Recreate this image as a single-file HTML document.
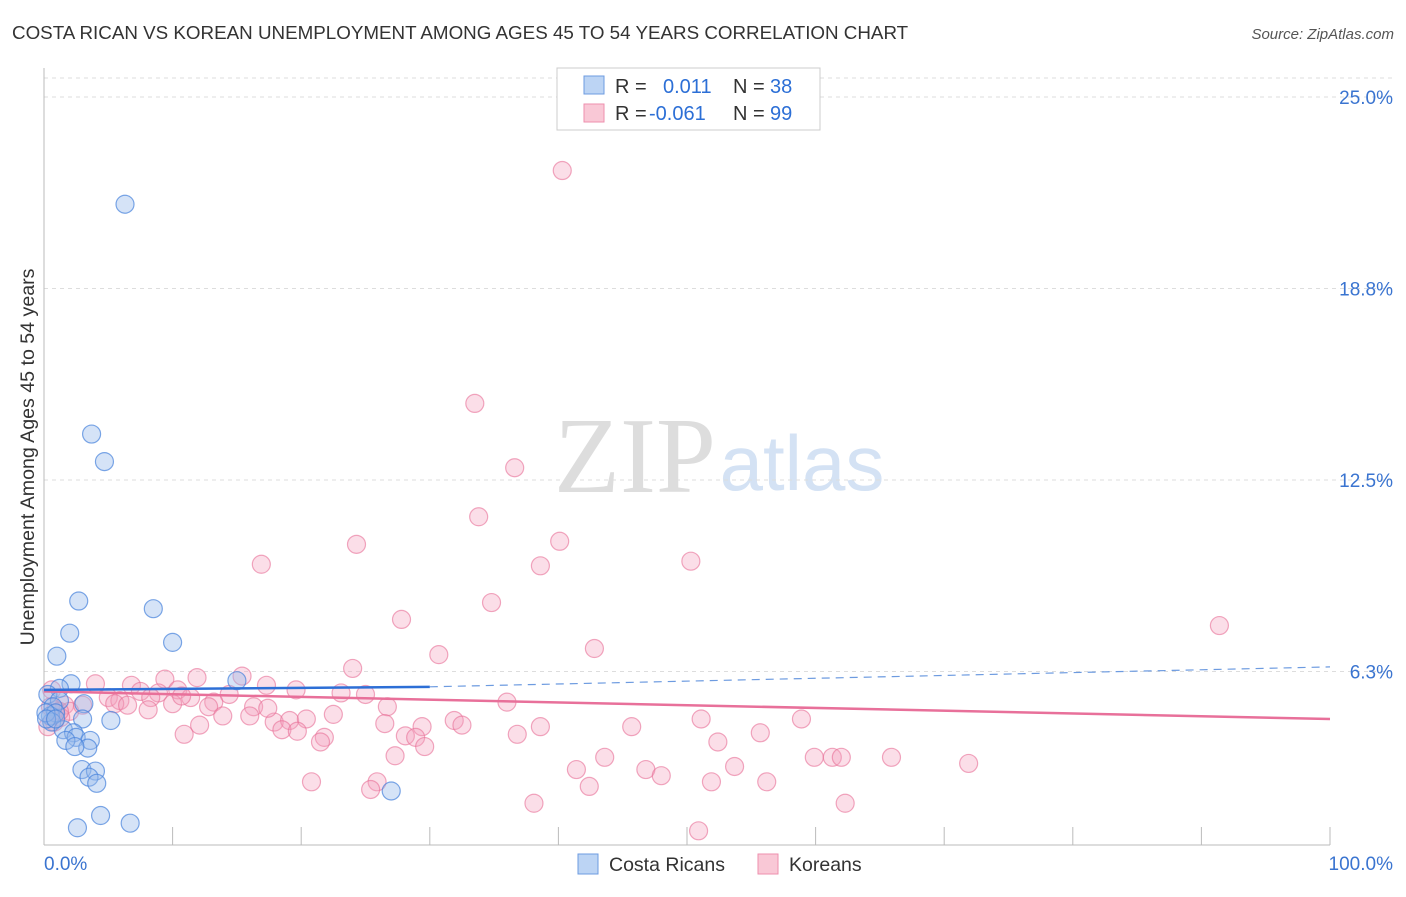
<!DOCTYPE html>
<html><head><meta charset="utf-8"><style>
body{margin:0;background:#fff;font-family:"Liberation Sans",sans-serif}
</style></head><body>
<svg id="c" width="1406" height="892" xmlns="http://www.w3.org/2000/svg">
<text x="12" y="39" font-size="18.8" fill="#333">COSTA RICAN VS KOREAN UNEMPLOYMENT AMONG AGES 45 TO 54 YEARS CORRELATION CHART</text>
<text x="1394" y="39" font-size="15" fill="#555" font-style="italic" text-anchor="end">Source: ZipAtlas.com</text>
<text x="635" y="492" font-size="108" fill="#ddd" font-family="Liberation Serif,serif" text-anchor="middle">ZIP</text>
<text x="802" y="490" font-size="78" fill="#d4e2f4" text-anchor="middle">atlas</text>
<text transform="translate(34,457) rotate(-90)" font-size="19.6" fill="#333" text-anchor="middle">Unemployment Among Ages 45 to 54 years</text>
<g id="grid"></g><g id="pts"></g><g id="lines"></g>
<g>
<rect x="557" y="68" width="263" height="62" fill="#fff" stroke="#ccc"/>
<rect x="584" y="76" width="20" height="18" fill="#bcd4f4" stroke="#6d9be0"/>
<rect x="584" y="104" width="20" height="18" fill="#f9c8d6" stroke="#ee8fae"/>
<text x="615" y="93" font-size="20" fill="#333">R =</text><text x="663" y="93" font-size="20" fill="#2c6fd6">0.011</text>
<text x="733" y="93" font-size="20" fill="#333">N =</text><text x="770" y="93" font-size="20" fill="#2c6fd6">38</text>
<text x="615" y="120" font-size="20" fill="#333">R =</text><text x="649" y="120" font-size="20" fill="#2c6fd6">-0.061</text>
<text x="733" y="120" font-size="20" fill="#333">N =</text><text x="770" y="120" font-size="20" fill="#2c6fd6">99</text>
</g>
<g>
<rect x="578" y="854" width="20" height="20" fill="#bcd4f4" stroke="#6d9be0"/><text x="609" y="871" font-size="19.5" fill="#333">Costa Ricans</text>
<rect x="758" y="854" width="20" height="20" fill="#f9c8d6" stroke="#ee8fae"/><text x="789" y="871" font-size="19.5" fill="#333">Koreans</text>
</g>
</svg>
<script>
const yTicks=[25,18.8,12.5,6.3];
const yTickVals=[25,18.75,12.5,6.25];
const xTickLabels=["0.0%","100.0%"];
const blueX=[6.3,3.7,4.7,2.7,8.5,2.0,10.0,1.0,15.0,2.1,1.2,0.3,3.1,1.2,0.7,0.5,0.9,3.0,5.2,0.6,1.5,2.3,2.5,1.7,3.6,3.4,2.4,2.95,4.0,3.5,4.1,27.0,4.4,6.7,2.6,0.15,0.2,0.9];
const blueY=[21.5,14.0,13.1,8.55,8.3,7.5,7.2,6.75,5.95,5.85,5.7,5.5,5.2,5.3,5.1,4.8,4.9,4.7,4.65,4.6,4.35,4.25,4.1,4.0,4.0,3.75,3.8,3.05,3.0,2.8,2.6,2.35,1.55,1.3,1.15,4.9,4.7,4.7];
const pinkX=[40.3,33.5,36.6,33.8,24.3,40.1,16.9,38.6,50.3,34.8,27.8,91.4,42.8,30.7,24.0,15.4,9.4,11.9,4.0,6.8,17.3,19.6,7.5,10.4,8.9,23.1,25.0,11.4,14.4,8.3,5.0,5.9,5.5,36.0,10.0,13.2,16.3,26.7,12.8,1.6,2.0,16.0,13.9,22.5,1.3,17.9,19.1,20.4,26.5,31.9,51.1,58.9,45.7,38.6,32.5,29.4,18.5,19.7,12.1,10.9,21.8,28.1,28.9,36.8,55.7,21.5,29.6,52.4,27.3,43.6,59.9,61.3,62.0,65.9,71.9,53.7,41.4,46.8,48.0,20.8,25.9,42.4,51.9,56.2,25.4,38.1,62.3,50.9,0.8,0.9,0.5,0.6,0.3,1.2,3.0,10.7,17.4,6.5,8.1];
const pinkY=[22.6,15.0,12.9,11.3,10.4,10.5,9.75,9.7,9.85,8.5,7.95,7.75,7.0,6.8,6.35,6.1,6.0,6.05,5.85,5.8,5.8,5.65,5.6,5.65,5.55,5.55,5.5,5.4,5.5,5.4,5.4,5.3,5.2,5.25,5.2,5.25,5.1,5.1,5.1,5.15,4.95,4.8,4.8,4.85,4.75,4.6,4.65,4.7,4.55,4.65,4.7,4.7,4.45,4.45,4.5,4.45,4.35,4.3,4.5,4.2,4.1,4.15,4.1,4.2,4.25,3.95,3.8,3.95,3.5,3.45,3.45,3.45,3.45,3.45,3.25,3.15,3.05,3.05,2.85,2.65,2.65,2.5,2.65,2.65,2.4,1.95,1.95,1.05,4.6,5.0,5.1,5.65,4.45,4.95,5.15,5.45,5.05,5.15,5.0];
const blueTrend=[5.65,5.75,6.4];
const pinkTrend=[5.6,4.7];
const X=v=>44+v*12.86, Y=v=>863-v*30.64;
const NS="http://www.w3.org/2000/svg";
function mk(t,a,p){const e=document.createElementNS(NS,t);for(const k in a)e.setAttribute(k,a[k]);p.appendChild(e);return e;}
const svg=document.getElementById('c'),grid=document.getElementById('grid'),pts=document.getElementById('pts'),lines=document.getElementById('lines');
mk('line',{x1:44,y1:78,x2:1394,y2:78,stroke:'#ddd','stroke-dasharray':'4,4'},grid);
yTickVals.forEach((v,i)=>{
 const l=mk('line',{x1:44,y1:Y(v),x2:1394,y2:Y(v),stroke:'#ddd','stroke-dasharray':'4,4'},grid);
 
 
 const t=mk('text',{x:1393,y:Y(v)+7,'font-size':19,fill:'#3a74d0','text-anchor':'end'},grid);
 t.textContent=yTicks[i].toFixed(1)+'%';
 
 
});
mk('line',{x1:44,y1:68,x2:44,y2:845,stroke:'#bbb'},grid);
mk('line',{x1:44,y1:845,x2:1330,y2:845,stroke:'#bbb'},grid);
for(let i=0;i<=10;i++){const t=mk('line',{x1:X(i*10),y1:827,x2:X(i*10),y2:845,stroke:'#bbb'},grid);
 
 }
const xl0=mk('text',{x:44,y:870,'font-size':19,fill:'#3a74d0'},grid);xl0.textContent=xTickLabels[0];


const xl1=mk('text',{x:1393,y:870,'font-size':19,fill:'#3a74d0','text-anchor':'end'},grid);xl1.textContent=xTickLabels[1];


pinkX.forEach((x,i)=>{const c=mk('circle',{cx:X(x),cy:Y(pinkY[i]),r:9,fill:'rgba(244,160,188,0.35)',stroke:'rgba(232,110,150,0.6)','stroke-width':1.2},pts);
 
 });
blueX.forEach((x,i)=>{const c=mk('circle',{cx:X(x),cy:Y(blueY[i]),r:9,fill:'rgba(150,186,236,0.4)',stroke:'rgba(70,130,220,0.7)','stroke-width':1.2},pts);
 
 });
const pl=mk('line',{x1:X(0),y1:Y(pinkTrend[0]),x2:X(100),y2:Y(pinkTrend[1]),stroke:'#e8709a','stroke-width':2.5},lines);


const bl=mk('line',{x1:X(0),y1:Y(blueTrend[0]),x2:X(30),y2:Y(blueTrend[1]),stroke:'#2d6fd6','stroke-width':2.5},lines);


const bd=mk('line',{x1:X(30),y1:Y(blueTrend[1]),x2:X(100),y2:Y(blueTrend[2]),stroke:'#6d9be0','stroke-width':1.2,'stroke-dasharray':'8,6'},lines);


</script>
</body></html>
